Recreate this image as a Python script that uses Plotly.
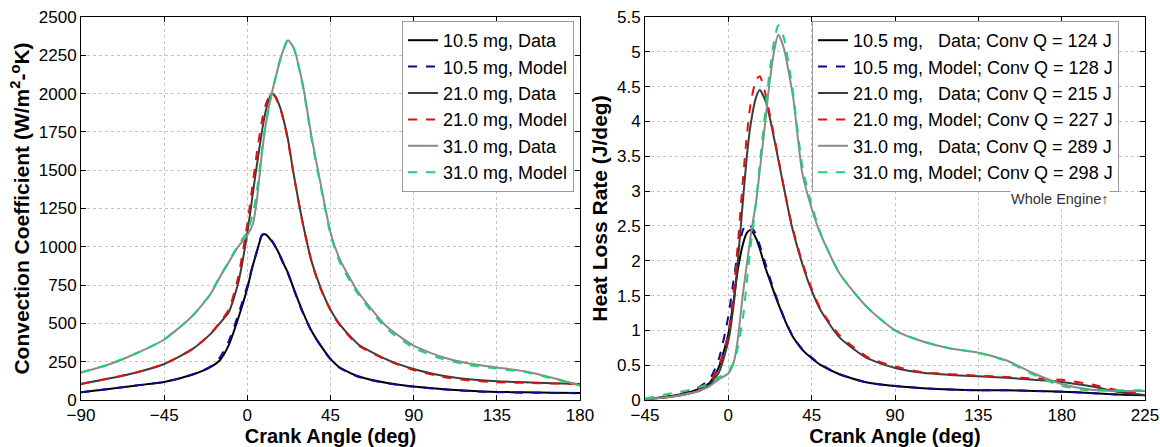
import plotly.graph_objects as go

# ---------------- Left panel: convection coefficient ----------------
angle_left = [-90, -75, -60, -45, -30, -20, -15, -10, -5, 0, 3, 5, 8, 10, 13, 15, 18, 20, 22, 25,
              30, 35, 40, 45, 50, 60, 75, 90, 105, 120, 135, 150, 165, 180]

h_105_data = [50, 72, 95, 118, 165, 215, 258, 360, 530, 730, 880, 960, 1075, 1080, 1040, 1005, 935, 880, 830, 730,
              575, 445, 350, 268, 212, 155, 112, 88, 72, 60, 53, 50, 47, 45]
h_105_model = [50, 72, 95, 118, 165, 218, 275, 385, 555, 745, 885, 965, 1080, 1083, 1045, 1005, 930, 875, 825, 725,
               570, 440, 348, 265, 210, 152, 110, 86, 70, 58, 51, 48, 46, 44]
h_210_data = [105, 140, 180, 235, 330, 430, 500, 575, 760, 1090, 1350, 1520, 1760, 1890, 2000, 1985, 1900, 1810, 1700, 1480,
              1155, 895, 722, 590, 494, 364, 267, 202, 160, 135, 122, 116, 110, 104]
h_210_model = [105, 140, 180, 235, 330, 432, 505, 590, 800, 1150, 1420, 1600, 1830, 1930, 2005, 1980, 1895, 1805, 1690, 1475,
               1150, 890, 715, 585, 488, 358, 262, 195, 152, 128, 116, 112, 108, 104]
h_310_data = [180, 232, 305, 395, 545, 690, 800, 900, 1000, 1075, 1150, 1290, 1620, 1800, 1990, 2090, 2230, 2300, 2348, 2300,
              2060, 1700, 1390, 1095, 920, 705, 485, 355, 282, 238, 212, 188, 145, 95]
h_310_model = [180, 232, 305, 395, 545, 692, 805, 905, 1010, 1100, 1220, 1350, 1640, 1800, 1990, 2090, 2235, 2305, 2352, 2300,
               2050, 1685, 1375, 1080, 900, 690, 470, 340, 270, 228, 205, 182, 140, 95]

# ---------------- Right panel: heat loss rate ----------------
angle_right = [-45, -30, -20, -15, -10, -5, 0, 3, 5, 8, 10, 12, 15, 17, 20, 22, 25, 27, 30, 33, 35,
               40, 45, 50, 60, 75, 90, 105, 120, 135, 150, 165, 180, 195, 210, 225]

q_105_data = [0.01, 0.06, 0.12, 0.17, 0.25, 0.48, 0.95, 1.45, 1.85, 2.25, 2.40, 2.44, 2.32, 2.17, 1.90, 1.75, 1.52, 1.38, 1.18, 1.00, 0.90,
              0.72, 0.60, 0.50, 0.37, 0.25, 0.20, 0.17, 0.15, 0.14, 0.14, 0.13, 0.12, 0.10, 0.08, 0.07]
q_105_model = [0.01, 0.06, 0.13, 0.20, 0.30, 0.60, 1.20, 1.75, 2.10, 2.45, 2.53, 2.50, 2.38, 2.22, 1.96, 1.79, 1.55, 1.40, 1.19, 1.01, 0.91,
               0.73, 0.61, 0.51, 0.37, 0.25, 0.20, 0.17, 0.15, 0.14, 0.14, 0.13, 0.12, 0.10, 0.08, 0.07]
q_210_data = [0.01, 0.05, 0.10, 0.14, 0.22, 0.40, 0.85, 1.40, 1.95, 2.90, 3.50, 3.95, 4.35, 4.45, 4.30, 4.10, 3.72, 3.45, 3.05, 2.65, 2.42,
              1.95, 1.57, 1.28, 0.90, 0.60, 0.46, 0.39, 0.36, 0.34, 0.32, 0.29, 0.26, 0.20, 0.12, 0.07]
q_210_model = [0.01, 0.05, 0.11, 0.16, 0.25, 0.50, 0.95, 1.60, 2.20, 3.20, 3.80, 4.25, 4.60, 4.65, 4.40, 4.15, 3.75, 3.47, 3.05, 2.66, 2.44,
               1.97, 1.60, 1.30, 0.93, 0.62, 0.48, 0.40, 0.37, 0.35, 0.33, 0.31, 0.29, 0.23, 0.14, 0.08]
q_310_data = [0.01, 0.05, 0.10, 0.14, 0.20, 0.30, 0.38, 0.55, 0.85, 1.55, 1.95, 2.35, 2.85, 3.30, 4.00, 4.50, 5.05, 5.25, 5.05, 4.65, 4.35,
              3.25, 2.75, 2.37, 1.82, 1.33, 1.00, 0.84, 0.74, 0.68, 0.57, 0.38, 0.23, 0.15, 0.13, 0.13]
q_310_model = [0.02, 0.10, 0.15, 0.19, 0.24, 0.33, 0.41, 0.55, 0.74, 1.20, 1.70, 2.20, 2.85, 3.40, 4.15, 4.65, 5.20, 5.38, 5.20, 4.75, 4.40,
               3.35, 2.80, 2.38, 1.82, 1.33, 1.00, 0.84, 0.74, 0.68, 0.56, 0.36, 0.20, 0.14, 0.14, 0.14]

left_names = ["10.5 mg, Data", "10.5 mg, Model", "21.0 mg, Data", "21.0 mg, Model", "31.0 mg, Data", "31.0 mg, Model"]
nb = "\u00a0"
right_names = [f"10.5 mg,{nb*3}Data; Conv Q = 124 J", "10.5 mg, Model; Conv Q = 128 J",
               f"21.0 mg,{nb*3}Data; Conv Q = 215 J", "21.0 mg, Model; Conv Q = 227 J",
               f"31.0 mg,{nb*3}Data; Conv Q = 289 J", "31.0 mg, Model; Conv Q = 298 J"]

colors = ["#000000", "#0a0a9c", "#3c3c3c", "#e01010", "#8a8a8a", "#1fd070"]
dashes = ["solid", "dash", "solid", "dash", "solid", "dash"]

left_series = [h_105_data, h_105_model, h_210_data, h_210_model, h_310_data, h_310_model]
right_series = [q_105_data, q_105_model, q_210_data, q_210_model, q_310_data, q_310_model]

FONT = "Liberation Sans, Arial, sans-serif"
fig = go.Figure()

for i, ys in enumerate(left_series):
    fig.add_trace(go.Scatter(x=angle_left, y=ys, mode="lines", name=left_names[i],
                             line=dict(color=colors[i], width=2, dash=dashes[i], shape="spline", smoothing=0.6),
                             xaxis="x", yaxis="y", legend="legend"))
for i, ys in enumerate(right_series):
    fig.add_trace(go.Scatter(x=angle_right, y=ys, mode="lines", name=right_names[i],
                             line=dict(color=colors[i], width=2, dash=dashes[i], shape="spline", smoothing=0.6),
                             xaxis="x2", yaxis="y2", legend="legend2"))

W, H = 1160, 447
ydom = [(H - 400) / H, (H - 17) / H]

axis_common = dict(showline=True, linecolor="#000000", linewidth=1, mirror="ticks", ticks="inside", ticklen=5,
                   tickcolor="#000000", showgrid=True, gridcolor="#c4c4c4", griddash="dot", gridwidth=1,
                   zeroline=False, automargin=False, tickfont=dict(family=FONT, size=17, color="#000000"))
xtitle_font = dict(family=FONT, size=20, color="#000000")
ytitle_font = dict(family=FONT, size=21, color="#000000")

legend_font = dict(family=FONT, size=18, color="#000000")

fig.update_layout(
    width=W, height=H, margin=dict(l=0, r=0, t=0, b=0),
    paper_bgcolor="white", plot_bgcolor="white",
    font=dict(family=FONT, color="#000000"),
    xaxis=dict(domain=[81 / W, 580 / W], range=[-90, 180], tickvals=[-90, -45, 0, 45, 90, 135, 180],
               anchor="y", title=dict(text="<b>Crank Angle (deg)</b>", font=xtitle_font), **axis_common),
    yaxis=dict(domain=ydom, range=[0, 2500], dtick=250, anchor="x",
               title=dict(text="<b>Convection Coefficient (W/m<sup>2</sup>-<sup>o</sup>K)</b>", font=ytitle_font,
                          standoff=3),
               **axis_common),
    xaxis2=dict(domain=[645 / W, 1145 / W], range=[-45, 225], tickvals=[-45, 0, 45, 90, 135, 180, 225],
                anchor="y2", title=dict(text="<b>Crank Angle (deg)</b>", font=xtitle_font), **axis_common),
    yaxis2=dict(domain=ydom, range=[0, 5.5], dtick=0.5, anchor="x2",
                title=dict(text="<b>Heat Loss Rate (J/deg)</b>", font=ytitle_font, standoff=3), **axis_common),
    legend=dict(x=402 / W, y=1 - 21 / H, xanchor="left", yanchor="top", bgcolor="white",
                bordercolor="#9a9a9a", borderwidth=1, font=legend_font,
                tracegroupgap=0, itemwidth=30),
    legend2=dict(x=812 / W, y=1 - 21 / H, xanchor="left", yanchor="top", bgcolor="white",
                 bordercolor="#9a9a9a", borderwidth=1, font=legend_font,
                 tracegroupgap=0, itemwidth=30),
    showlegend=True,
    annotations=[dict(text="Whole Engine<b>\u2191</b>", x=1060 / W, y=1 - 199 / H, xref="paper", yref="paper",
                      showarrow=False, font=dict(family=FONT, size=14.5, color="#333333"), bgcolor="white",
                      xanchor="center", yanchor="middle", borderpad=0)],
)

fig.write_html("out.html")
